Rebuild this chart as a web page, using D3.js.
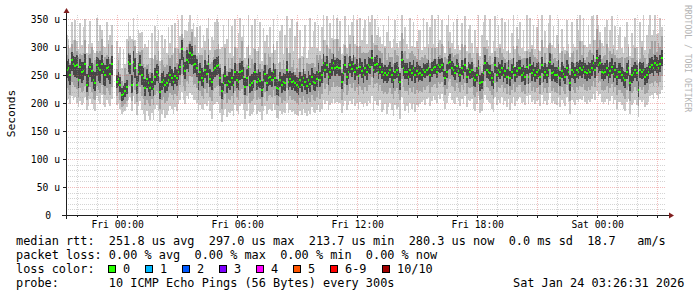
<!DOCTYPE html>
<html>
<head>
<meta charset="utf-8">
<script src="https://cdn.jsdelivr.net/npm/d3@7/dist/d3.min.js"></script>
<style>
  html, body { margin: 0; padding: 0; background: #ffffff; }
  svg { display: block; }
  text { font-family: "DejaVu Sans Mono", monospace; white-space: pre; }
</style>
</head>
<body>
<div id="chart"></div>
<script>
// 5 minute steps, 10 pings each; sorted ping values in microseconds (null = no data)
var medianRtt = [
  259,262,250,277,270,266,268,241,264,255,258,270,232,248,264,257,241,236,268,262,259,270,255,250,262,264,252,270,
  null,null,
  237,243,232,214,216,222,228,
  273,270,233,274,262,232,255,268,250,245,227,243,236,227,
  238,225,246,255,250,220,238,241,232,236,241,250,245,238,249,244,255,264,
  297,266,258,277,273,289,286,268,270,262,238,255,245,240,259,252,270,243,238,259,262,266,
  268,245,221,236,249,232,240,238,244,232,255,241,238,256,258,247,229,244,264,232,236,240,256,238,243,240,224,241,252,236,244,
  247,241,256,244,227,225,241,232,238,236,259,238,243,238,239,235,232,229,241,233,245,237,230,241,234,246,238,236,242,
  256,241,250,271,259,268,247,256,262,271,262,265,262,262,238,253,268,247,256,268,260,270,255,262,248,265,258,250,262,255,267,
  265,280,259,268,270,256,265,256,250,253,250,253,259,250,241,256,259,250,238,277,262,256,256,247,259,253,262,250,258,252,
  253,250,259,256,259,262,250,259,262,265,256,268,265,268,259,244,256,271,274,262,259,253,266,258,250,262,255,268,247,260,
  256,259,244,241,250,262,235,238,253,271,259,256,253,244,238,268,250,259,256,262,250,257,247,262,244,255,265,250,258,262,
  262,250,253,247,265,247,268,253,259,250,256,259,247,268,250,256,250,259,274,253,256,250,250,262,244,258,252,247,262,255,
  235,259,256,250,259,256,262,259,265,256,253,259,256,262,271,259,280,268,271,256,253,256,262,250,258,265,252,259,247,256,
  256,250,244,241,256,262,235,250,253,259,253,224,259,256,259,247,250,256,265,268,262,271,268,262,270,280
];
var ping4 = [
  245,240,232,258,250,247,244,226,243,236,241,248,220,229,246,238,225,222,249,240,236,252,233,231,245,241,234,250,
  null,null,
  226,231,219,203,205,210,216,
  255,252,218,256,245,216,238,250,232,229,212,226,220,212,
  224,212,232,240,236,207,223,228,218,222,228,236,231,224,234,230,241,250,
  276,250,242,260,255,270,268,252,254,246,224,240,230,226,244,236,254,228,224,243,246,250,
  252,230,208,222,234,218,226,224,230,218,240,227,224,241,243,233,215,230,248,218,222,226,241,224,229,226,211,227,238,222,230,
  233,228,242,230,214,212,228,218,224,222,245,224,229,224,226,221,218,215,227,219,231,223,216,227,220,232,224,222,228,
  242,228,236,256,245,254,233,242,248,257,248,251,248,248,225,239,254,233,242,254,246,256,241,248,234,251,244,236,248,241,253,
  251,266,245,254,256,242,251,242,236,239,236,239,245,236,227,242,245,236,224,263,248,242,242,233,245,239,248,236,244,238,
  241,239,246,244,248,250,238,247,251,252,245,255,253,256,247,232,244,259,261,250,247,241,254,246,238,250,243,255,235,248,
  243,245,231,228,237,249,222,225,240,257,245,243,240,231,225,254,237,246,243,248,237,244,234,249,231,242,251,237,245,249,
  249,237,240,233,251,234,254,240,246,237,243,246,233,254,237,243,236,246,260,240,243,237,236,249,231,245,239,234,249,242,
  221,245,242,236,245,242,248,245,251,242,239,245,242,248,257,245,265,254,257,242,239,242,248,236,244,251,238,245,233,242,
  242,237,230,227,242,248,221,236,239,245,239,210,245,242,245,233,236,242,251,254,248,257,254,248,256,266
];
var ping7 = [
  275,279,268,291,284,282,285,262,278,274,273,287,251,266,281,272,258,255,283,280,276,286,272,268,279,283,270,284,
  null,null,
  250,256,246,227,230,236,241,
  290,286,250,292,280,249,272,286,266,262,243,260,252,244,
  253,240,262,270,266,236,254,257,247,252,256,266,260,253,264,260,270,279,
  312,282,274,294,290,305,302,285,286,278,254,272,262,256,276,268,286,260,255,276,278,283,
  284,262,236,252,266,248,256,255,260,248,272,258,254,272,275,264,245,260,280,248,252,256,272,254,260,256,240,258,268,252,260,
  262,256,272,260,242,240,256,248,254,251,275,253,258,254,255,250,247,244,256,248,261,252,245,257,250,262,254,251,258,
  271,256,266,287,274,284,262,271,278,287,277,281,278,277,253,269,284,262,271,284,275,286,270,278,263,281,273,265,278,270,283,
  280,295,274,283,286,271,280,271,265,268,265,268,274,265,256,271,274,265,253,292,277,271,271,262,274,268,277,265,273,267,
  266,262,272,270,272,276,263,273,275,279,269,282,278,281,272,258,269,284,288,275,272,266,279,271,263,276,268,281,261,273,
  270,274,258,256,265,277,250,253,268,285,274,270,268,258,253,283,264,273,270,277,264,272,261,276,258,270,280,264,273,277,
  277,264,268,262,280,261,283,268,274,264,271,274,261,283,264,271,265,274,290,268,271,264,265,277,258,273,266,262,277,270,
  250,274,271,265,274,271,277,274,280,271,268,274,271,277,286,274,295,283,286,271,268,271,277,265,273,280,267,274,262,271,
  271,265,258,256,271,277,250,265,268,274,268,240,274,271,274,262,265,271,280,283,277,286,283,277,285,294
];
var ping2 = [
  226,224,214,238,232,228,225,210,226,219,222,230,205,212,228,220,208,206,231,223,218,232,216,214,226,222,214,229,
  null,null,
  212,218,205,192,194,198,204,
  232,230,204,235,224,202,218,228,212,208,196,206,200,195,
  208,196,214,222,218,190,206,210,200,204,210,218,214,206,216,212,222,232,
  252,230,222,240,234,248,246,232,234,226,206,222,212,208,225,218,234,210,204,222,226,230,
  232,212,190,206,216,200,208,206,212,200,222,210,205,222,225,214,198,212,230,200,204,208,222,205,210,208,194,210,220,204,212,
  215,210,224,212,196,194,210,200,206,204,226,206,212,206,208,203,200,197,209,201,213,205,198,209,202,214,206,204,210,
  222,208,216,236,225,234,214,222,228,237,228,231,228,228,206,220,234,214,222,234,226,236,221,228,215,231,224,216,228,221,233,
  232,246,226,234,236,222,232,222,216,220,216,220,226,216,208,222,226,216,205,243,228,222,222,214,226,220,228,216,224,218,
  222,220,228,224,230,232,218,228,233,234,226,238,234,238,228,214,225,240,243,231,228,222,236,226,219,232,224,236,216,229,
  226,228,214,210,220,232,205,208,222,240,228,226,222,214,208,236,220,228,226,232,220,226,216,232,214,224,234,220,228,232,
  232,220,222,216,234,218,236,222,228,220,226,228,216,236,220,226,218,228,242,222,226,220,218,232,214,228,222,216,232,224,
  204,228,224,218,228,224,230,228,234,224,222,228,224,230,240,228,248,236,240,224,222,224,230,218,226,234,220,228,214,224,
  224,218,212,208,224,230,204,218,222,228,222,194,228,224,228,216,218,224,234,236,230,240,236,230,238,248
];
var ping9 = [
  285,303,272,305,290,312,292,282,288,286,290,313,262,286,287,300,270,276,293,290,293,315,276,282,285,306,278,304,
  null,null,
  260,277,252,240,233,262,252,
  310,290,270,310,301,260,292,291,295,270,264,268,270,255,
  280,250,286,277,292,247,276,268,264,267,285,280,285,257,298,272,297,290,
  323,293,293,300,306,310,326,292,304,284,270,285,285,265,294,275,315,270,274,282,294,297,
  305,270,252,255,298,258,280,262,280,261,300,270,272,281,310,277,264,268,303,263,279,270,296,259,292,270,260,268,290,267,287,
  282,259,305,270,260,243,274,260,277,260,298,257,290,264,277,256,262,255,281,256,282,257,272,270,270,272,272,265,285,
  277,286,278,312,284,304,277,297,290,312,283,314,292,300,260,286,303,287,282,306,281,320,282,302,272,302,290,291,290,290,291,
  294,322,280,304,303,295,292,290,269,298,276,290,283,282,269,295,285,284,258,325,290,292,278,278,290,293,288,284,279,296,
  277,283,280,286,279,298,272,298,278,298,279,307,285,305,273,282,278,310,298,290,283,285,288,288,266,305,276,304,264,288,
  290,280,270,265,289,290,266,258,300,300,297,276,284,269,273,292,282,281,298,290,282,278,274,295,277,278,302,265,302,288,
  284,278,281,281,292,278,291,296,286,282,278,294,271,313,272,290,270,304,307,288,278,280,275,305,264,292,269,288,292,290,
  263,289,293,272,294,275,310,286,304,276,282,291,295,290,312,279,332,298,312,278,284,285,305,272,292,287,296,286,280,278,
  280,282,262,280,282,300,254,280,281,299,276,256,279,300,286,280,270,288,297,311,288,310,291,308,300,320
];
var pingMin = [
  205,208,198,212,206,210,200,192,204,196,200,210,188,194,208,199,190,186,212,204,198,214,196,192,205,200,194,208,
  null,null,
  196,200,190,180,184,186,192,
  205,210,185,212,198,178,195,204,188,180,168,185,176,170,
  182,170,190,196,186,166,180,188,174,178,186,194,190,180,192,185,198,205,
  220,205,198,212,208,218,215,205,206,200,186,196,190,188,198,194,204,186,172,196,198,202,
  198,182,166,178,190,175,184,182,186,176,196,186,180,194,198,188,172,186,200,176,180,184,196,180,186,184,170,186,194,180,188,
  190,186,198,188,174,172,186,180,184,182,200,182,188,184,186,180,178,176,186,178,190,182,176,186,180,192,184,182,188,
  196,184,190,206,198,204,188,196,200,208,200,202,200,200,182,194,204,188,196,204,198,208,194,200,190,202,198,192,200,194,204,
  200,212,186,204,196,194,206,184,188,198,180,192,200,188,176,196,190,192,172,210,198,186,194,182,200,190,198,184,196,192,
  198,202,206,196,208,210,194,204,212,206,200,214,208,216,204,190,200,212,218,206,200,198,210,204,195,208,198,212,192,205,
  204,208,190,186,198,212,182,186,200,214,206,202,200,190,184,210,196,206,200,210,196,204,192,208,188,200,210,194,204,208,
  210,200,202,196,212,198,214,202,206,198,204,206,194,214,198,204,196,206,218,200,204,198,196,210,192,206,200,194,210,202,
  180,206,202,196,206,202,208,206,212,202,198,206,202,208,216,206,222,212,216,202,198,202,208,196,204,212,198,206,190,202,
  202,196,190,186,202,208,180,196,200,206,196,175,206,202,206,192,196,202,212,214,208,218,214,208,216,224
];
var pingMax = [
  322,315,298,345,312,348,310,296,342,304,335,350,290,305,346,308,295,290,352,310,340,330,302,300,344,312,322,340,
  null,null,
  310,290,300,262,296,270,315,
  345,320,315,352,312,290,330,325,326,298,305,300,312,280,
  325,278,338,310,330,275,322,298,315,290,336,308,340,290,342,298,348,320,
  357,316,330,328,345,357,332,342,318,335,290,338,298,322,310,334,352,295,318,312,345,350,
  345,296,300,340,305,315,350,290,338,284,350,298,325,352,318,340,280,300,357,285,340,298,350,292,300,345,275,334,310,322,300,
  335,290,350,295,310,272,328,340,288,322,355,290,334,350,292,320,345,278,330,284,300,340,280,295,352,300,328,345,298,
  340,292,335,357,312,355,298,342,316,357,314,352,315,346,288,305,356,298,340,322,344,357,306,348,300,352,312,334,348,305,355,
  345,357,308,350,322,335,318,306,340,302,326,355,310,298,315,348,308,298,310,357,314,335,305,296,352,302,344,300,310,330,
  330,295,352,300,345,305,335,357,306,350,300,357,312,348,302,290,340,357,326,308,345,296,350,304,294,342,300,355,292,332,
  340,308,290,330,300,357,284,322,345,357,312,302,350,290,310,355,298,340,306,352,296,345,292,348,290,325,357,296,336,314,
  345,298,330,292,357,296,352,304,340,296,335,350,292,357,300,328,298,342,357,304,338,298,322,350,290,332,300,294,348,306,
  282,345,306,300,350,330,357,310,352,304,300,340,306,355,357,312,357,340,326,308,302,335,348,298,330,355,304,338,294,322,
  335,298,290,318,345,306,284,325,304,352,300,272,345,310,357,294,322,340,357,322,330,357,324,325,352,336
];

var yTicks = [0, 50, 100, 150, 200, 250, 300, 350];
var lossLabels = ['0', '1', '2', '3', '4', '5', '6-9', '10/10'];
var lossColors = ['#26ff00', '#00b8ff', '#0059ff', '#7e00ff', '#ff00ff', '#ff5500', '#ff0000', '#a00000'];
var statLines = [
  'median rtt:  251.8 us avg  297.0 us max  213.7 us min  280.3 us now  0.0 ms sd  18.7   am/s',
  'packet loss: 0.00 % avg  0.00 % max  0.00 % min  0.00 % now'
];
var probeText = 'probe:       10 ICMP Echo Pings (56 Bytes) every 300s';
var stampText = 'Sat Jan 24 03:26:31 2026';

var startTime = Date.UTC(2026, 0, 22, 21, 26, 31);
var endTime = Date.UTC(2026, 0, 24, 3, 26, 31);
var stepMs = 300 * 1000;
var yMax = 357.14;

var W = 697, H = 297;
var plot = { left: 66, right: 666, top: 15, bottom: 215 };

var svg = d3.select('#chart').append('svg')
  .attr('width', W).attr('height', H);
svg.append('rect').attr('width', W).attr('height', H).attr('fill', '#ffffff');

var x = d3.scaleUtc().domain([startTime, endTime]).range([plot.left, plot.right]);
var y = d3.scaleLinear().domain([0, yMax]).range([plot.bottom, plot.top]).clamp(true);

// rows per step
var steps = [];
medianRtt.forEach(function (m, i) {
  if (m == null) return;
  var t0 = startTime + i * stepMs;
  steps.push({
    x0: Math.round(x(t0)),
    x1: Math.round(x(t0 + stepMs)),
    med: m,
    lo: [pingMin[i], ping2[i], ping4[i]],
    hi: [pingMax[i], ping9[i], ping7[i]]
  });
});

// smoke bands, outer to inner
var smokeColors = ['#cacaca', '#a4a4a4', '#474747'];
smokeColors.forEach(function (c, k) {
  svg.append('g').attr('shape-rendering', 'crispEdges')
    .selectAll('rect')
    .data(steps)
    .enter()
    .append('rect')
    .attr('x', function (d) { return d.x0; })
    .attr('width', function (d) { return d.x1 - d.x0; })
    .attr('y', function (d) { return Math.round(y(d.hi[k])); })
    .attr('height', function (d) { return Math.round(y(d.lo[k])) - Math.round(y(d.hi[k])); })
    .attr('fill', c);
});

// grid
var grid = svg.append('g').attr('shape-rendering', 'crispEdges');
var minorCol = 'rgba(143,143,143,0.38)', majorCol = 'rgba(222,79,79,0.38)';
d3.range(10, 360, 10).forEach(function (v) {
  grid.append('line')
    .attr('x1', plot.left).attr('x2', plot.right)
    .attr('y1', Math.round(y(v)) + 0.5).attr('y2', Math.round(y(v)) + 0.5)
    .attr('stroke', v % 50 === 0 ? majorCol : minorCol)
    .attr('stroke-dasharray', '1,1');
});
var hours = d3.utcHour.every(1).range(new Date(startTime), new Date(endTime));
hours.forEach(function (h) {
  var major = h.getUTCHours() % 3 === 0;
  var gx = Math.round(x(h)) + 0.5;
  grid.append('line')
    .attr('x1', gx).attr('x2', gx)
    .attr('y1', plot.top).attr('y2', plot.bottom)
    .attr('stroke', major ? majorCol : minorCol)
    .attr('stroke-dasharray', '1,1');
  svg.append('line')
    .attr('x1', gx).attr('x2', gx)
    .attr('y1', plot.bottom).attr('y2', plot.bottom + (major ? 3 : 2))
    .attr('stroke', '#1f1f1f').attr('shape-rendering', 'crispEdges');
});
yTicks.forEach(function (v) {
  svg.append('line')
    .attr('x1', plot.left - 3).attr('x2', plot.left)
    .attr('y1', Math.round(y(v)) + 0.5).attr('y2', Math.round(y(v)) + 0.5)
    .attr('stroke', '#1f1f1f').attr('shape-rendering', 'crispEdges');
});

// median marks (loss 0 colour)
var sw = yMax / (plot.bottom - plot.top);
svg.append('g').attr('shape-rendering', 'crispEdges')
  .selectAll('rect')
  .data(steps)
  .enter()
  .append('rect')
  .attr('x', function (d) { return d.x0; })
  .attr('width', function (d) { return d.x1 - d.x0; })
  .attr('y', function (d) { return Math.round(y(d.med + sw)); })
  .attr('height', function (d) { return Math.round(y(d.med - sw)) - Math.round(y(d.med + sw)); })
  .attr('fill', lossColors[0]);

// axes
var yAxis = d3.axisLeft(y)
  .tickValues(yTicks)
  .tickSize(0)
  .tickPadding(6)
  .tickFormat(function (d) { return d === 0 ? '0' : d + ' u'; });
var gy = svg.append('g').attr('transform', 'translate(' + plot.left + ',0)').call(yAxis);
gy.select('.domain').remove();
gy.selectAll('text')
  .attr('font-family', '"DejaVu Sans Mono", monospace')
  .attr('font-size', '9.7px')
  .attr('fill', '#000')
  .attr('x', function (d) { return d === 0 ? -15 : -6; });

var xAxis = d3.axisBottom(x)
  .tickValues(hours.filter(function (h) { return h.getUTCHours() % 6 === 0; }))
  .tickSize(0)
  .tickPadding(6)
  .tickFormat(d3.utcFormat('%a %H:%M'));
var gx = svg.append('g').attr('transform', 'translate(0,' + plot.bottom + ')').call(xAxis);
gx.select('.domain').remove();
gx.selectAll('text')
  .attr('font-family', '"DejaVu Sans Mono", monospace')
  .attr('font-size', '9.7px')
  .attr('fill', '#000');

// axis lines with arrows
svg.append('line')
  .attr('x1', plot.left - 4).attr('x2', plot.right + 4)
  .attr('y1', plot.bottom + 0.5).attr('y2', plot.bottom + 0.5)
  .attr('stroke', '#1f1f1f').attr('shape-rendering', 'crispEdges');
svg.append('line')
  .attr('x1', plot.left + 0.5).attr('x2', plot.left + 0.5)
  .attr('y1', plot.bottom + 4).attr('y2', plot.top - 3)
  .attr('stroke', '#1f1f1f').attr('shape-rendering', 'crispEdges');
svg.append('path')
  .attr('d', 'M' + (plot.left - 2.5) + ',' + (plot.top - 2) + 'L' + (plot.left + 3.5) + ',' + (plot.top - 2) + 'L' + (plot.left + 0.5) + ',' + (plot.top - 7) + 'Z')
  .attr('fill', '#801f1f');
svg.append('path')
  .attr('d', 'M' + (plot.right + 3) + ',' + (plot.bottom - 2.5) + 'L' + (plot.right + 3) + ',' + (plot.bottom + 3.5) + 'L' + (plot.right + 8) + ',' + (plot.bottom + 0.5) + 'Z')
  .attr('fill', '#801f1f');

// y title and watermark
svg.append('text')
  .attr('transform', 'translate(15,113.5) rotate(-90)')
  .attr('text-anchor', 'middle')
  .attr('font-size', '11.3px')
  .attr('fill', '#000')
  .text('Seconds');
svg.append('text')
  .attr('transform', 'translate(685,5) rotate(90)')
  .attr('font-size', '8.1px')
  .attr('fill', '#b4b4b4')
  .text('RRDTOOL / TOBI OETIKER');

// legend
var fs = '11.86px';
statLines.forEach(function (s, i) {
  svg.append('text')
    .attr('x', 16).attr('y', 244.5 + i * 14)
    .attr('font-size', fs).attr('fill', '#000')
    .text(s);
});
svg.append('text')
  .attr('x', 16).attr('y', 272.5)
  .attr('font-size', fs).attr('fill', '#000')
  .text('loss color:');
var legendX = [108, 145, 182, 219, 256, 293, 330, 382];
lossLabels.forEach(function (lab, i) {
  svg.append('rect')
    .attr('x', legendX[i] + 0.5).attr('y', 265.5)
    .attr('width', 7).attr('height', 7)
    .attr('fill', lossColors[i])
    .attr('stroke', '#000').attr('stroke-width', 1);
  svg.append('text')
    .attr('x', legendX[i] + 15).attr('y', 272.5)
    .attr('font-size', fs).attr('fill', '#000')
    .text(lab);
});
svg.append('text')
  .attr('x', 16).attr('y', 286.5)
  .attr('font-size', fs).attr('fill', '#000')
  .text(probeText);
svg.append('text')
  .attr('x', 513).attr('y', 286.5)
  .attr('font-size', fs).attr('fill', '#000')
  .text(stampText);
</script>
</body>
</html>
